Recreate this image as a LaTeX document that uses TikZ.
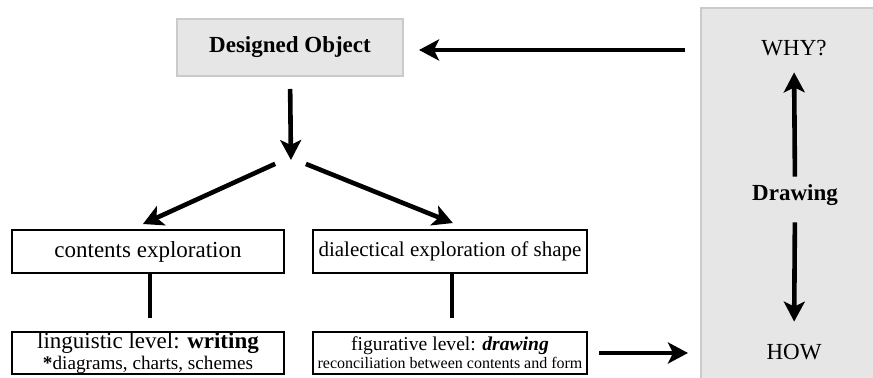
\documentclass[tikz,border=0pt]{standalone}
\usepackage{fontspec}
\setmainfont{Liberation Serif}
\usetikzlibrary{arrows.meta}
\definecolor{panelfill}{HTML}{E6E6E6}
\definecolor{paneldraw}{HTML}{CACACA}
\begin{document}
\begin{tikzpicture}[x=0.5pt,y=-0.5pt,
  box/.style={draw=black,line width=1pt,rectangle,inner sep=0pt,
    minimum width=136pt,minimum height=21.5pt,
    font=\fontsize{11.5}{9}\selectfont,align=center},
  objbox/.style={draw=paneldraw,fill=panelfill,line width=1pt,rectangle,inner sep=0pt,
    minimum width=113pt,minimum height=28.5pt,font=\fontsize{11.5}{13}\selectfont},
  panel/.style={draw=paneldraw,fill=panelfill,line width=1pt,rectangle,inner sep=0pt,
    minimum width=95pt,minimum height=191pt},
  lbl/.style={inner sep=0pt,text height=8pt,text depth=2.5pt,font=\fontsize{11.5}{13}\selectfont},
  arr/.style={line width=2.3pt,-{Stealth[length=10pt,width=10.5pt,inset=2.5pt]}},
  ln/.style={line width=2.3pt}]
\useasboundingbox (0,0) rectangle (873,378);
\clip (0,0) rectangle (873,378);

% right panel
\node[panel] (side) at (796,199) {};
\node[lbl] (why) at (794,50) {WHY?};
\node[lbl] (drw) at (795,195) {\textbf{Drawing}};
\node[lbl] (how) at (794,354) {HOW};

% left structure
\node[objbox] (obj) at (290,47.5) {\textbf{Designed Object}};
\coordinate (split) at (291,163);
\node[box] (cont) at (148,251.5) {contents exploration};
\node[box,minimum width=137pt,font=\fontsize{10.5}{9}\selectfont] (dial) at (450,251.5) {dialectical exploration of shape};
\node[box,minimum height=21pt] (ling) at (148,353)
  {linguistic level: \textbf{writing}\\{\fontsize{9.6}{9}\selectfont\textbf{*}diagrams, charts, schemes}};
\node[box,minimum width=137pt,minimum height=21pt,font=\fontsize{9.8}{9}\selectfont] (fig) at (450,353)
  {figurative level: \textbf{\textit{drawing}}\\{\fontsize{8}{9}\selectfont reconciliation between contents and form}};

% connectors
\draw[arr,shorten <=7.5pt,shorten >=7.5pt] (side.west |- why) -- (obj.east |- why);
\draw[arr,shorten <=6pt,shorten >=1.5pt] (obj.south) -- (split);
\draw[arr,shorten <=1pt,shorten >=6pt] ([xshift=-7pt]split) -- ([xshift=-8pt]cont.north);
\draw[arr,shorten <=1.3pt,shorten >=8pt] ([xshift=6.25pt]split) -- ([xshift=8.85pt]dial.north);
\draw[ln,shorten >=6.5pt] ([xshift=1pt]cont.south) -- ([xshift=1pt]ling.north);
\draw[ln,shorten >=6.5pt] ([xshift=1pt]dial.south) -- ([xshift=1pt]fig.north);
\draw[arr,shorten <=5.5pt,shorten >=6pt] (fig.east) -- (side.west |- fig.east);
\draw[arr,shorten <=3.75pt,shorten >=5.75pt] (drw.north) -- (why.south);
\draw[arr,shorten <=8.25pt,shorten >=10.75pt] (drw.south) -- (how.north);
\end{tikzpicture}
\end{document}
